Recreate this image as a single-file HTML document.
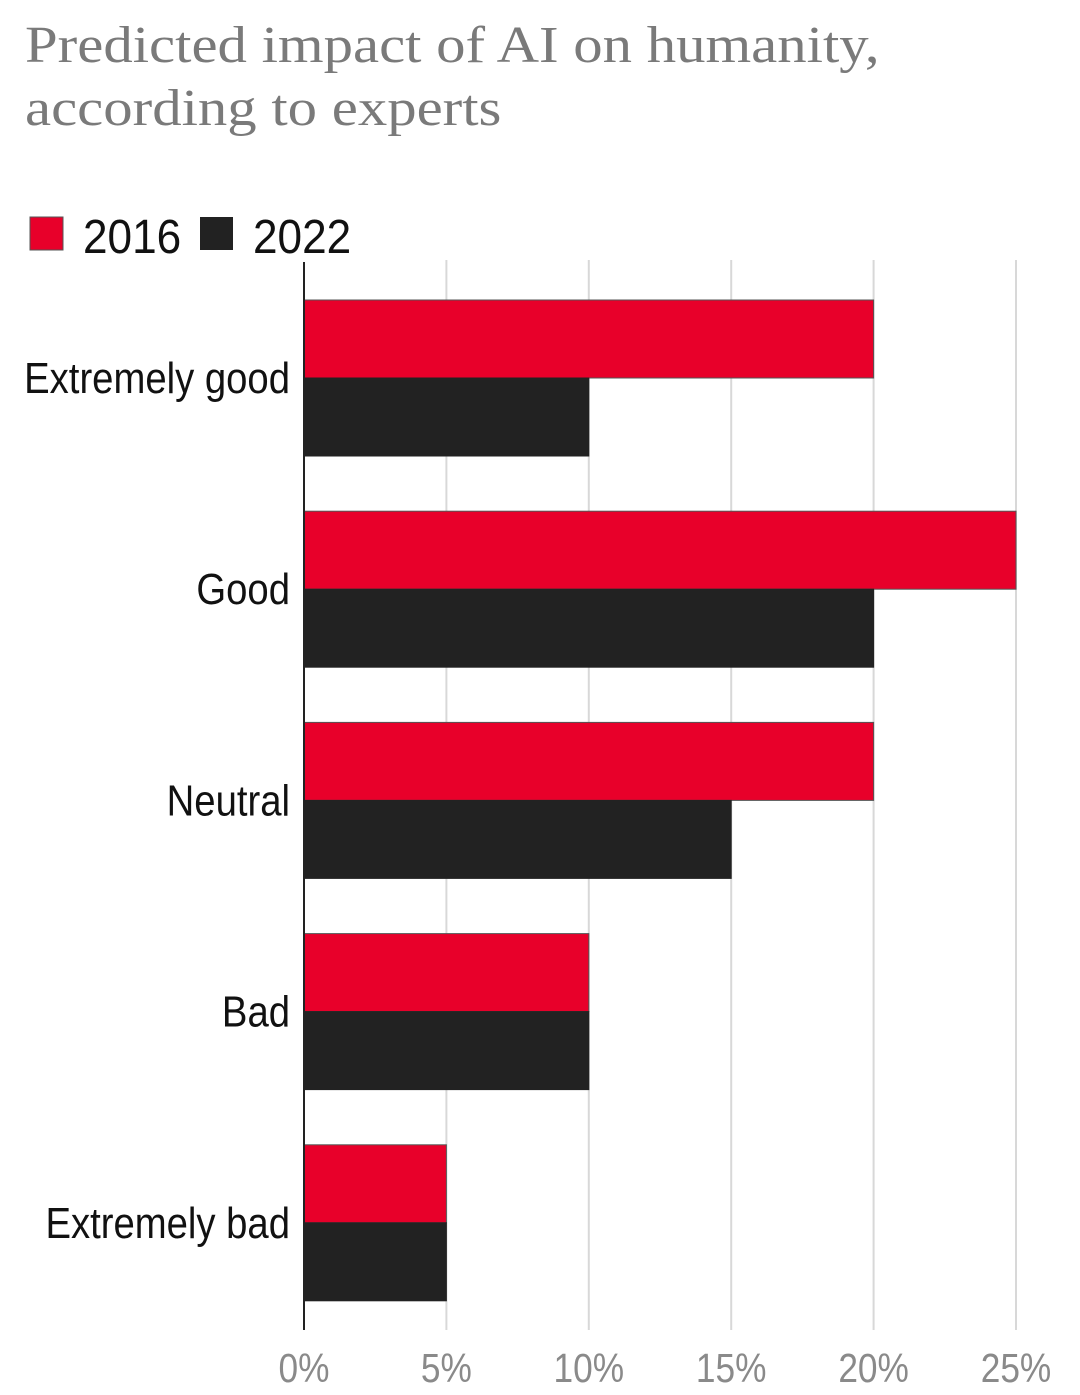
<!DOCTYPE html>
<html><head><meta charset="utf-8"><style>
body{margin:0;background:#fff;width:1080px;height:1395px;overflow:hidden;}
.t{position:absolute;left:25px;top:14px;font-family:"Liberation Serif",serif;font-size:52px;color:#7a7a7a;line-height:63px;transform:scaleX(1.13);transform-origin:0 0;white-space:nowrap;}
</style></head><body>
<div class="t">Predicted impact of AI on humanity,<br>according to experts</div>
<svg id="c" width="1080" height="1395" style="position:absolute;left:0;top:0"></svg>
<script>
const categories=["Extremely good","Good","Neutral","Bad","Extremely bad"];
const values2016=[20,25,20,10,5];
const values2022=[10,20,15,10,5];
const ticks=[0,5,10,15,20,25];
const tickLabels=["0%","5%","10%","15%","20%","25%"];
const NS="http://www.w3.org/2000/svg",svg=document.getElementById('c');
const x0=304,x1=1016,xm=25;
const X=v=>x0+(x1-x0)*v/xm;
const bandTop=300,bandStep=211.2,barH=78;
function el(t,a,p){const e=document.createElementNS(NS,t);for(const k in a)e.setAttribute(k,a[k]);(p||svg).appendChild(e);return e;}
const font='"Liberation Sans Narrow","Liberation Sans",sans-serif';
ticks.forEach((t,i)=>{
 if(t>0){const g=el('line',{x1:X(t),x2:X(t),y1:260,y2:1330,stroke:'#d8d8d8','stroke-width':2});
 
 }
 const tx=el('text',{x:0,y:0,'text-anchor':'middle','font-family':font,'font-size':41,fill:'#8a8a8a',transform:`translate(${X(t)},1382) scale(0.86,1)`});
 tx.textContent=tickLabels[i];
 
 
});
categories.forEach((c,i)=>{
 const y=bandTop+i*bandStep;
 const r=el('rect',{x:x0,y:y,width:X(values2016[i])-x0,height:barH,fill:'#e8002a',stroke:'#555','stroke-width':1});
 
 
 const b=el('rect',{x:x0,y:y+barH,width:X(values2022[i])-x0,height:barH,fill:'#222',stroke:'#222','stroke-width':1});
 
 
 const l=el('text',{x:0,y:0,'text-anchor':'end','font-family':font,'font-size':44,fill:'#111',transform:`translate(290,${y+barH+15}) scale(0.87,1)`});
 l.textContent=c;
 
 
});
const ax=el('line',{x1:x0,x2:x0,y1:262,y2:1330,stroke:'#222','stroke-width':2});


const lg=el('g',{});


const s1=el('rect',{x:30,y:217,width:33,height:33,fill:'#e8002a',stroke:'#555','stroke-width':1},lg);


const t1=el('text',{x:0,y:0,'font-family':font,'font-size':48,fill:'#111',transform:'translate(83,253) scale(0.92,1)'},lg);t1.textContent='2016';


const s2=el('rect',{x:200,y:217,width:33,height:33,fill:'#222'},lg);


const t2=el('text',{x:0,y:0,'font-family':font,'font-size':48,fill:'#111',transform:'translate(253,253) scale(0.92,1)'},lg);t2.textContent='2022';


</script>
</body></html>
